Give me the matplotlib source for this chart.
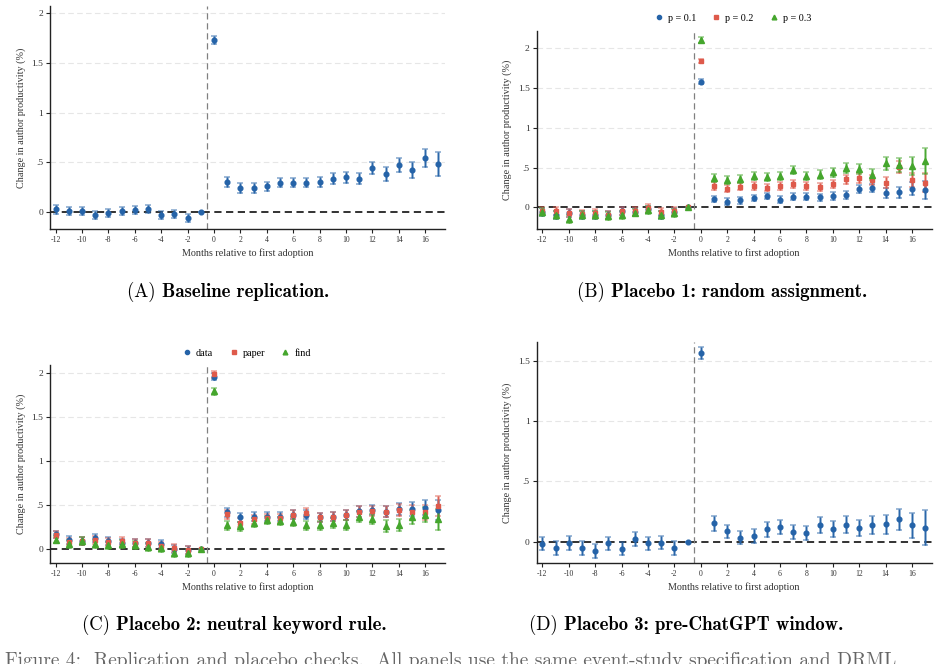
import matplotlib
matplotlib.use("Agg")
import matplotlib.pyplot as plt
from matplotlib.lines import Line2D
import numpy as np

# ---------------- data ----------------
months = list(range(-12, 18))
xtick_vals = list(range(-12, 17, 2))
xtick_labels = [str(v) for v in xtick_vals]

# Panel A: baseline replication
a_est = [0.03, 0.013, 0.013, -0.03, -0.007, 0.013, 0.02, 0.03, -0.03, -0.017, -0.063, 0.0,
         1.73, 0.30, 0.243, 0.243, 0.257, 0.297, 0.297, 0.297, 0.303, 0.337, 0.35, 0.333,
         0.443, 0.387, 0.473, 0.423, 0.543, 0.483]
a_ci = [0.045, 0.04, 0.04, 0.04, 0.04, 0.04, 0.04, 0.04, 0.04, 0.04, 0.04, 0.0,
        0.04, 0.05, 0.05, 0.05, 0.05, 0.05, 0.05, 0.05, 0.05, 0.055, 0.055, 0.055,
        0.065, 0.07, 0.075, 0.08, 0.09, 0.125]

# Panel B: placebo 1, random assignment
b_labels = ["p = 0.1", "p = 0.2", "p = 0.3"]
b_p1 = [-0.06, -0.09, -0.075, -0.09, -0.10, -0.10, -0.04, -0.06, -0.025, -0.10, -0.06, 0.0,
        1.58, 0.11, 0.075, 0.09, 0.12, 0.147, 0.10, 0.138, 0.138, 0.126, 0.143, 0.155,
        0.23, 0.25, 0.18, 0.19, 0.235, 0.22]
b_p1_ci = [0.05, 0.05, 0.05, 0.05, 0.05, 0.05, 0.05, 0.05, 0.05, 0.05, 0.05, 0.0,
           0.03, 0.04, 0.04, 0.04, 0.04, 0.04, 0.04, 0.045, 0.045, 0.045, 0.05, 0.05,
           0.05, 0.05, 0.06, 0.07, 0.08, 0.11]
b_p2 = [-0.045, -0.05, -0.067, -0.08, -0.067, -0.097, -0.04, -0.05, -0.01, -0.06, -0.045, 0.0,
        1.84, 0.27, 0.235, 0.26, 0.27, 0.247, 0.27, 0.30, 0.27, 0.26, 0.30, 0.356,
        0.373, 0.344, 0.31, 0.51, 0.344, 0.31]
b_p2_ci = [0.05, 0.05, 0.05, 0.05, 0.05, 0.05, 0.05, 0.05, 0.05, 0.05, 0.05, 0.0,
           0.03, 0.045, 0.045, 0.045, 0.045, 0.045, 0.045, 0.05, 0.05, 0.05, 0.05, 0.055,
           0.06, 0.06, 0.07, 0.08, 0.09, 0.12]
b_p3 = [-0.06, -0.09, -0.14, -0.09, -0.097, -0.11, -0.09, -0.063, -0.034, -0.097, -0.075, 0.0,
        2.105, 0.365, 0.344, 0.356, 0.40, 0.38, 0.395, 0.47, 0.395, 0.41, 0.44, 0.50,
        0.48, 0.41, 0.553, 0.537, 0.524, 0.583]
b_p3_ci = [0.05, 0.05, 0.05, 0.05, 0.05, 0.05, 0.05, 0.05, 0.05, 0.05, 0.05, 0.0,
           0.04, 0.05, 0.05, 0.05, 0.05, 0.05, 0.05, 0.055, 0.055, 0.055, 0.06, 0.065,
           0.065, 0.07, 0.085, 0.09, 0.11, 0.16]

# Panel C: placebo 2, neutral keyword rule
c_labels = ["data", "paper", "find"]
c_data = [0.17, 0.105, 0.098, 0.132, 0.09, 0.075, 0.075, 0.075, 0.057, 0.0, -0.008, 0.0,
          1.955, 0.42, 0.36, 0.37, 0.37, 0.37, 0.39, 0.39, 0.36, 0.37, 0.39, 0.43,
          0.445, 0.426, 0.457, 0.46, 0.468, 0.445]
c_data_ci = [0.04, 0.045, 0.045, 0.045, 0.045, 0.045, 0.045, 0.045, 0.045, 0.045, 0.045, 0.0,
             0.04, 0.05, 0.05, 0.05, 0.05, 0.05, 0.05, 0.05, 0.05, 0.055, 0.055, 0.06,
             0.06, 0.065, 0.07, 0.08, 0.085, 0.11]
c_paper = [0.162, 0.087, 0.094, 0.105, 0.08, 0.094, 0.072, 0.068, 0.038, 0.011, -0.008, 0.0,
           1.98, 0.396, 0.30, 0.34, 0.35, 0.35, 0.39, 0.415, 0.36, 0.37, 0.39, 0.426,
           0.434, 0.426, 0.445, 0.42, 0.42, 0.49]
c_paper_ci = [0.04, 0.045, 0.045, 0.045, 0.045, 0.045, 0.045, 0.045, 0.045, 0.045, 0.045, 0.0,
              0.04, 0.05, 0.05, 0.05, 0.05, 0.05, 0.05, 0.05, 0.05, 0.055, 0.055, 0.06,
              0.06, 0.065, 0.07, 0.08, 0.085, 0.11]
c_find = [0.105, 0.057, 0.094, 0.057, 0.042, 0.06, 0.05, 0.02, 0.011, -0.045, -0.045, 0.0,
          1.79, 0.27, 0.257, 0.30, 0.33, 0.32, 0.313, 0.27, 0.27, 0.30, 0.27, 0.37,
          0.34, 0.264, 0.275, 0.362, 0.39, 0.34]
c_find_ci = [0.04, 0.045, 0.045, 0.045, 0.045, 0.045, 0.045, 0.045, 0.045, 0.045, 0.045, 0.0,
             0.04, 0.05, 0.05, 0.05, 0.05, 0.05, 0.05, 0.05, 0.05, 0.055, 0.055, 0.06,
             0.06, 0.065, 0.07, 0.08, 0.085, 0.12]

# Panel D: placebo 3, pre-ChatGPT window
d_est = [-0.017, -0.053, -0.011, -0.053, -0.078, -0.014, -0.058, 0.022, -0.014, -0.008, -0.053, 0.0,
         1.57, 0.152, 0.086, 0.033, 0.047, 0.102, 0.122, 0.078, 0.072, 0.136, 0.105, 0.141,
         0.113, 0.136, 0.144, 0.185, 0.136, 0.116]
d_ci = [0.055, 0.055, 0.055, 0.055, 0.055, 0.055, 0.055, 0.055, 0.055, 0.055, 0.055, 0.0,
        0.05, 0.06, 0.055, 0.055, 0.055, 0.06, 0.06, 0.06, 0.06, 0.065, 0.065, 0.07,
        0.07, 0.075, 0.08, 0.09, 0.105, 0.145]

captions = [("(A) ", "Baseline replication."),
            ("(B) ", "Placebo 1: random assignment."),
            ("(C) ", "Placebo 2: neutral keyword rule."),
            ("(D) ", "Placebo 3: pre-ChatGPT window.")]
fig_caption = "Figure 4:  Replication and placebo checks.  All panels use the same event-study specification and DRML"

# ---------------- style ----------------
BLUE = "#2563a8"
RED = "#de5a4b"
GREEN = "#45a62d"
SERIF = ["Liberation Serif", "DejaVu Serif"]
plt.rcParams["font.family"] = SERIF

W, H = 941, 664
fig = plt.figure(figsize=(W / 100, H / 100), dpi=100)


def ax_at(left, top, right, bottom):
    return fig.add_axes([left / W, 1 - bottom / H, (right - left) / W, (bottom - top) / H])


def style_axes(ax, ylim, yticks, ylabels):
    ax.set_xlim(-12.43, 17.5)
    ax.set_ylim(*ylim)
    for s in ["top", "right"]:
        ax.spines[s].set_visible(False)
    for s in ["left", "bottom"]:
        ax.spines[s].set_linewidth(1.0)
        ax.spines[s].set_color("#222222")
    ax.set_xticks(xtick_vals)
    ax.set_xticklabels(xtick_labels, fontsize=5.6, color="#333333")
    ax.set_yticks(yticks)
    ax.set_yticklabels(ylabels, fontsize=6.8, color="#333333")
    ax.tick_params(axis="both", length=3, width=0.8, color="#222222", pad=2)
    for yv in yticks:
        if yv > 0:
            ax.axhline(yv, color="#e6e6e6", lw=0.8, ls=(0, (5, 3)), zorder=0)
    ax.axhline(0, color="#222222", lw=1.3, ls=(0, (4, 2.5)), zorder=1)
    ax.axvline(-0.5, color="#808080", lw=0.9, ls=(0, (5, 3)), zorder=1)
    ax.set_xlabel("Months relative to first adoption", fontsize=7.3, color="#333333", labelpad=3)
    ax.set_ylabel("Change in author productivity (%)", fontsize=7.3, color="#333333", labelpad=4)


def series(ax, x, y, ci, color, marker, ms):
    x = np.asarray(x, dtype=float)
    y = np.asarray(y, dtype=float)
    ci = np.asarray(ci, dtype=float)
    ax.errorbar(x, y, yerr=ci, fmt="none", ecolor=color, elinewidth=2.0, alpha=0.45,
                capsize=2.2, capthick=1.4, zorder=2)
    ax.errorbar(x, y, yerr=ci, fmt="none", ecolor=color, elinewidth=0.9, alpha=0.95,
                capsize=0, zorder=3)
    ax.plot(x, y, ls="none", marker=marker, ms=ms, color=color, mec=color, zorder=4)


# Panel A
axA = ax_at(50, 6, 445, 229)
style_axes(axA, (-0.17, 2.07), [0, 0.5, 1, 1.5, 2], ["0", ".5", "1", "1.5", "2"])
series(axA, months, a_est, a_ci, BLUE, "o", 3.4)

# Panel B
axB = ax_at(536.7, 30.7, 931.7, 229)
style_axes(axB, (-0.27, 2.22), [0, 0.5, 1, 1.5, 2], ["0", ".5", "1", "1.5", "2"])
series(axB, months, b_p1, b_p1_ci, BLUE, "o", 3.4)
series(axB, months, b_p2, b_p2_ci, RED, "s", 3.2)
series(axB, months, b_p3, b_p3_ci, GREEN, "^", 3.8)

# Panel C
axC = ax_at(50, 365, 445, 563.3)
style_axes(axC, (-0.16, 2.087), [0, 0.5, 1, 1.5, 2], ["0", ".5", "1", "1.5", "2"])
series(axC, months, c_data, c_data_ci, BLUE, "o", 3.4)
series(axC, months, c_paper, c_paper_ci, RED, "s", 3.2)
series(axC, months, c_find, c_find_ci, GREEN, "^", 3.8)

# Panel D
axD = ax_at(536.7, 341.7, 931.7, 563.3)
style_axes(axD, (-0.18, 1.66), [0, 0.5, 1, 1.5], ["0", ".5", "1", "1.5"])
series(axD, months, d_est, d_ci, BLUE, "o", 3.4)


def add_legend(labels, cx, cy):
    handles = [Line2D([], [], ls="none", marker=m, ms=ms, color=c)
               for m, ms, c in [("o", 3.0, BLUE), ("s", 3.0, RED), ("^", 3.4, GREEN)]]
    fig.legend(handles, labels, loc="center", bbox_to_anchor=(cx / W, 1 - cy / H),
               ncol=3, frameon=False, fontsize=7.3, handlelength=0.8, handletextpad=0.5,
               columnspacing=1.6, borderpad=0)


add_legend(b_labels, 733, 18)
add_legend(c_labels, 247, 353)

# Captions: regular label + bold text (Computer Modern)
renderer = fig.canvas.get_renderer()
cap_pos = [(228, 292), (722, 292), (234, 625), (686, 625)]
for (lab, txt), (cx, cy) in zip(captions, cap_pos):
    t1 = fig.text(0, 1 - cy / H, lab, family="cmr10", fontsize=13.5, va="center", ha="left")
    t2 = fig.text(0, 1 - cy / H, txt, family="cmb10", fontsize=13.5, va="center", ha="left")
    w1 = t1.get_window_extent(renderer).width
    w2 = t2.get_window_extent(renderer).width
    x0 = cx - (w1 + w2) / 2
    t1.set_x(x0 / W)
    t2.set_x((x0 + w1) / W)

# Figure caption: only its top edge falls inside the page, as in the source
fig.text(5 / W, 1 - 652 / H, fig_caption, family="cmr10", fontsize=14,
         va="top", ha="left", color="#666666")

fig.savefig("out.png", dpi=100)
